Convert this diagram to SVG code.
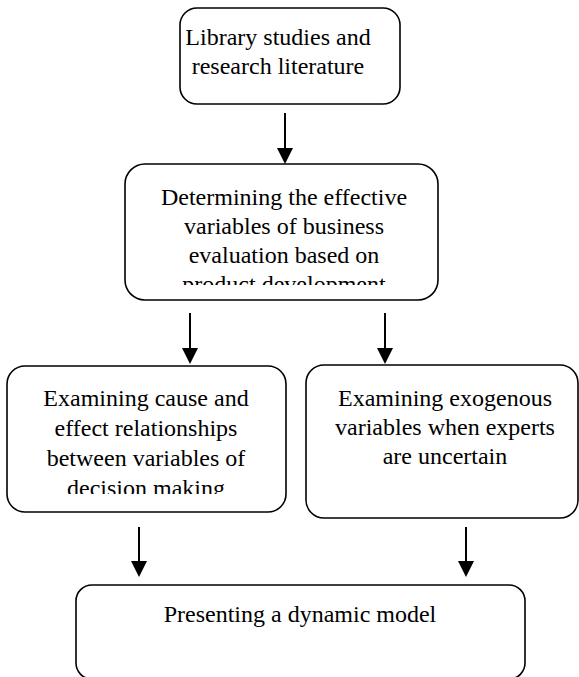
<svg xmlns="http://www.w3.org/2000/svg" width="579" height="677" viewBox="0 0 579 677">
<style>
.box{fill:#fff;stroke:#000;stroke-width:1.6}
.c{stroke:#000;stroke-width:2;fill:none}
</style>
<defs>
<clipPath id="clip2"><rect x="125" y="164" width="313" height="121"/></clipPath>
<clipPath id="clip3"><rect x="7" y="366" width="279" height="128"/></clipPath>
</defs>
<g font-family="Liberation Serif, Times New Roman, serif" font-size="24" fill="#000" text-anchor="middle">
<g id="n1">
<rect class="box" x="180" y="8" width="220" height="96" rx="17"/>
<text x="278" y="45">Library studies and</text>
<text x="278" y="74">research literature</text>
</g>
<g id="n2">
<rect class="box" x="125" y="164" width="313" height="136" rx="20"/>
<g clip-path="url(#clip2)">
<text x="284" y="205">Determining the effective</text>
<text x="284" y="234">variables of business</text>
<text x="284" y="263">evaluation based on</text>
<text x="284" y="292">product development</text>
</g>
</g>
<g id="n3">
<rect class="box" x="7" y="366" width="279" height="146" rx="18"/>
<g clip-path="url(#clip3)">
<text x="146" y="406">Examining cause and</text>
<text x="146" y="436">effect relationships</text>
<text x="146" y="466">between variables of</text>
<text x="146" y="496">decision making</text>
</g>
</g>
<g id="n4">
<rect class="box" x="306" y="365" width="272" height="153" rx="18"/>
<text x="445" y="406">Examining exogenous</text>
<text x="445" y="435">variables when experts</text>
<text x="445" y="464">are uncertain</text>
</g>
<g id="n5">
<rect class="box" x="76" y="585" width="449" height="94" rx="16"/>
<text x="300" y="622">Presenting a dynamic model</text>
</g>
</g>
<g id="connectors">
<line class="c" x1="285" y1="113" x2="285" y2="150"/>
<polygon points="277,148 293,148 285,164"/>
<line class="c" x1="190" y1="313" x2="190" y2="350"/>
<polygon points="182,348 198,348 190,364"/>
<line class="c" x1="385" y1="313" x2="385" y2="350"/>
<polygon points="377,348 393,348 385,364"/>
<line class="c" x1="139" y1="527" x2="139" y2="563"/>
<polygon points="131,561 147,561 139,577"/>
<line class="c" x1="466" y1="527" x2="466" y2="563"/>
<polygon points="458,561 474,561 466,577"/>
</g>
</svg>
